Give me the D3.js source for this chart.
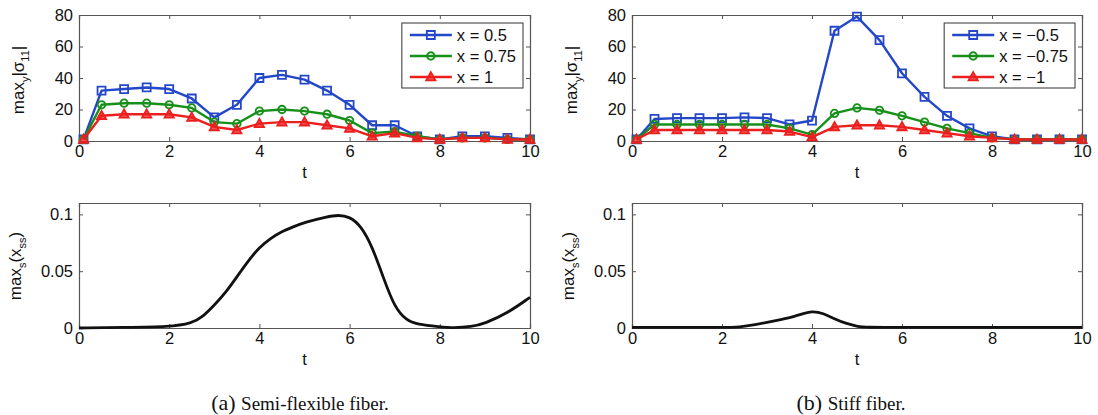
<!DOCTYPE html>
<html>
<head>
<meta charset="utf-8">
<script src="https://cdn.jsdelivr.net/npm/d3@7/dist/d3.min.js"></script>
<style>
  body { margin: 0; background: #fff; }
  svg text { font-family: "Liberation Sans", Arial, sans-serif; fill: #111; }
  .caption text { font-family: "Liberation Serif", "Times New Roman", serif; }
</style>
</head>
<body>
<svg id="chart" width="1098" height="415"></svg>
<script>
// sample times for the marker plots
const tMarks = [0.1, 0.5, 1, 1.5, 2, 2.5, 3, 3.5, 4, 4.5, 5, 5.5, 6, 6.5, 7, 7.5, 8, 8.5, 9, 9.5, 10];

// (a) semi-flexible fiber
const sigmaA_05 = [1, 32, 33, 34, 33, 27, 15, 23, 40, 42, 39, 32, 23, 10, 10, 3, 1, 3, 3, 2, 1];
const sigmaA_075 = [1, 23, 24, 24, 23, 21, 12, 11, 19, 20, 19, 17, 13, 5, 6, 3, 1, 2, 2, 1, 1];
const sigmaA_1 = [1, 16, 17, 17, 17, 15, 9, 7, 11, 12, 12, 10, 8, 3, 5, 2, 1, 2, 2, 1, 1];

// (b) stiff fiber
const sigmaB_05 = [1, 14, 14.5, 14.5, 14.5, 15, 14.5, 10.5, 13, 70, 79, 64, 43, 28, 16, 8, 3, 1, 1, 1, 1];
const sigmaB_075 = [1, 10.5, 10.5, 10.5, 10.5, 10.5, 10.5, 8, 4, 17.5, 21, 19.5, 16, 12, 8, 5, 2, 1, 1, 1, 1];
const sigmaB_1 = [1, 7, 7, 7, 7, 7, 7, 6, 2.5, 9, 10, 10, 9, 7, 5, 3, 2, 1, 1, 1, 1];

const legendA = ["x = 0.5", "x = 0.75", "x = 1"];
const legendB = ["x = \u22120.5", "x = \u22120.75", "x = \u22121"];

// curvature curves
const tCurveA = [0, 1, 2, 2.5, 2.75, 3, 3.25, 3.5, 3.75, 4, 4.25, 4.5, 4.75, 5, 5.5, 5.75, 6, 6.25, 6.5, 6.75, 7, 7.25, 7.5, 8, 8.3, 8.7, 9, 9.5, 10];
const curveA = [0, 0.0005, 0.001, 0.004, 0.01, 0.02, 0.031, 0.045, 0.059, 0.071, 0.079, 0.085, 0.089, 0.093, 0.098, 0.0995, 0.098, 0.09, 0.072, 0.044, 0.018, 0.007, 0.003, 0.001, 0, 0.001, 0.004, 0.013, 0.027];
const tCurveB = [0, 1, 2, 2.4, 2.75, 3, 3.25, 3.5, 3.75, 4, 4.25, 4.5, 4.75, 5, 5.2, 6, 8, 10];
const curveB = [0.0005, 0.0005, 0.0005, 0.0007, 0.003, 0.005, 0.007, 0.009, 0.012, 0.015, 0.013, 0.008, 0.004, 0.0015, 0.0005, 0.0005, 0.0005, 0.0005];

const xTicks = [0, 2, 4, 6, 8, 10];
const yTicksTop = [0, 20, 40, 60, 80];
const yTicksBottom = [0, 0.05, 0.1];

const captions = [["(a)", "Semi-flexible fiber."], ["(b)", "Stiff fiber."]];

const colors = ["#2347c8", "#17901a", "#ec1f1f"];
const markers = ["square", "circle", "triangle"];

const svg = d3.select("#chart");

function markerPath(type) {
    if (type === "square") return "M-4,-4H4V4H-4Z";
    if (type === "circle") return d3.symbol(d3.symbolCircle, 44)();
    return "M0,-4.8L4.6,3.4H-4.6Z";
}

// draws a MATLAB-like boxed axis, ticks pointing inward on all sides
function drawAxes(g, x, y, yTicks, yFormat) {
    const [x0, x1] = x.range();
    const [y1, y0] = y.range();

    g.append("rect")
        .attr("x", x0).attr("y", y0)
        .attr("width", x1 - x0).attr("height", y1 - y0)
        .attr("fill", "#fff");

    const bottom = g.append("g").attr("transform", `translate(0,${y1})`)
        .call(d3.axisBottom(x).tickValues(xTicks).tickSize(-4).tickPadding(4).tickFormat(d3.format("d")));
    const top = g.append("g").attr("transform", `translate(0,${y0})`)
        .call(d3.axisTop(x).tickValues(xTicks).tickSize(-4).tickFormat(""));
    const left = g.append("g").attr("transform", `translate(${x0},0)`)
        .call(d3.axisLeft(y).tickValues(yTicks).tickSize(-4).tickPadding(6).tickFormat(yFormat));
    const right = g.append("g").attr("transform", `translate(${x1},0)`)
        .call(d3.axisRight(y).tickValues(yTicks).tickSize(-4).tickFormat(""));

    [bottom, top, left, right].forEach(a => {
        a.select(".domain").attr("stroke", "#555").attr("stroke-width", 1.2);
        a.selectAll(".tick line").attr("stroke", "#555");
        a.selectAll("text").attr("font-size", 16.5).attr("fill", "#111")
            .attr("font-family", "Liberation Sans, Arial, sans-serif");
    });

    g.append("text")
        .attr("x", (x0 + x1) / 2).attr("y", y1 + 37)
        .attr("text-anchor", "middle").attr("font-size", 16.5)
        .text("t");
}

function yLabel(g, cx, cy, parts) {
    const t = g.append("text")
        .attr("transform", `translate(${cx},${cy}) rotate(-90)`)
        .attr("text-anchor", "middle")
        .attr("font-size", 17);
    parts.forEach(p => {
        const s = t.append("tspan").text(p.text);
        if (p.sub) s.attr("font-size", 11).attr("dy", 5);
        if (p.up) s.attr("dy", -5);
    });
}

function markerPanel(x0, x1, series, labels) {
    const x = d3.scaleLinear().domain([0, 10]).range([x0, x1]);
    const y = d3.scaleLinear().domain([0, 80]).range([141, 15]);
    const g = svg.append("g");

    drawAxes(g, x, y, yTicksTop, d3.format("d"));

    const line = d3.line().x((d, i) => x(tMarks[i])).y(d => y(d));

    series.forEach((vals, k) => {
        g.append("path")
            .attr("d", line(vals))
            .attr("fill", "none")
            .attr("stroke", colors[k])
            .attr("stroke-width", 2.4)
            .attr("stroke-linejoin", "round");
        g.selectAll(null).data(vals).join("path")
            .attr("transform", (d, i) => `translate(${x(tMarks[i])},${y(d)})`)
            .attr("d", markerPath(markers[k]))
            .attr("fill", markers[k] === "triangle" ? colors[k] : "none")
            .attr("fill-opacity", 0.75)
            .attr("stroke", colors[k])
            .attr("stroke-width", 1.8);
    });

    // legend, right-aligned inside the axes
    const lg = g.append("g");
    const texts = labels.map((lab, k) => lg.append("text")
        .attr("y", 35 + k * 21).attr("dy", "0.36em")
        .attr("font-size", 16.5).text(lab));
    const tw = d3.max(texts, t => t.node().getComputedTextLength());
    const bw = 8 + 42 + 5 + tw + 7;
    const bx = x1 - 7 - bw;
    lg.insert("rect", "text")
        .attr("x", bx).attr("y", 23).attr("width", bw).attr("height", 65)
        .attr("fill", "#fff").attr("stroke", "#444").attr("stroke-width", 1.1);
    texts.forEach(t => t.attr("x", bx + 8 + 42 + 5));
    labels.forEach((lab, k) => {
        const ly = 35 + k * 21;
        lg.append("line")
            .attr("x1", bx + 8).attr("x2", bx + 50).attr("y1", ly).attr("y2", ly)
            .attr("stroke", colors[k]).attr("stroke-width", 2.4);
        lg.append("path")
            .attr("transform", `translate(${bx + 29},${ly})`)
            .attr("d", markerPath(markers[k]))
            .attr("fill", markers[k] === "triangle" ? colors[k] : "none")
            .attr("fill-opacity", 0.75)
            .attr("stroke", colors[k]).attr("stroke-width", 1.8);
    });

    yLabel(g, x0 - 55, 80, [
        {text: "max"}, {text: "y", sub: true}, {text: "|\u03c3", up: true},
        {text: "11", sub: true}, {text: "|", up: true}
    ]);
}

function curvePanel(x0, x1, ts, vals) {
    const x = d3.scaleLinear().domain([0, 10]).range([x0, x1]);
    const y = d3.scaleLinear().domain([0, 0.11]).range([328, 203]);
    const g = svg.append("g");

    drawAxes(g, x, y, yTicksBottom, d => d === 0 ? "0" : String(d));

    g.append("path")
        .attr("d", d3.line().curve(d3.curveBasis)
            .x((d, i) => x(ts[i])).y(d => y(d))(vals))
        .attr("fill", "none")
        .attr("stroke", "#111")
        .attr("stroke-width", 2.8);

    yLabel(g, x0 - 58, 266, [
        {text: "max"}, {text: "s", sub: true}, {text: "(x", up: true},
        {text: "ss", sub: true}, {text: ")", up: true}
    ]);
}

markerPanel(79, 530, [sigmaA_05, sigmaA_075, sigmaA_1], legendA);
markerPanel(632, 1082, [sigmaB_05, sigmaB_075, sigmaB_1], legendB);
curvePanel(79, 530, tCurveA, curveA);
curvePanel(632, 1082, tCurveB, curveB);

const cap = svg.append("g").attr("class", "caption");
[300, 851].forEach((cx, i) => {
    const t = cap.append("text")
        .attr("x", cx).attr("y", 410)
        .attr("text-anchor", "middle");
    t.append("tspan").attr("font-size", 22).text(captions[i][0] + " ");
    t.append("tspan").attr("font-size", 19).text(captions[i][1]);
});
</script>
</body>
</html>
